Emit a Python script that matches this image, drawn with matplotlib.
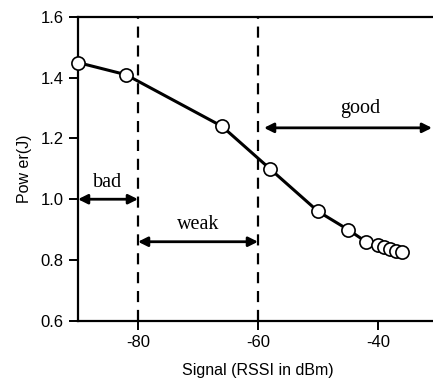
import matplotlib.pyplot as plt

# signal strength (dBm) vs power (J)
rssi = [-90, -82, -66, -58, -50, -45, -42, -40, -39, -38, -37, -36]
power = [1.45, 1.41, 1.24, 1.10, 0.96, 0.90, 0.86, 0.85, 0.844, 0.837, 0.831, 0.825]

zone_bounds = [-80, -60]
zones = ["bad", "weak", "good"]
zone_arrows = [(-90, -80, 1.0), (-80, -60, 0.86), (-59, -31, 1.235)]
zone_text = [(-85, 1.024), (-70, 0.884), (-43, 1.268)]

xticks = [-80, -60, -40]
yticks = [0.6, 0.8, 1.0, 1.2, 1.4, 1.6]


def main():
    plt.rcParams["axes.unicode_minus"] = False
    fig = plt.figure(figsize=(4.33, 3.81), dpi=100)
    ax = fig.add_axes([78 / 433, 60.3 / 381, 360 / 433, 303.7 / 381])

    for xb in zone_bounds:
        ax.axvline(xb, color="black", lw=1.6, ls=(0, (5, 3.5)), zorder=1)

    ax.plot(rssi, power, color="black", lw=2.2, marker="o", ms=9.5,
            mfc="white", mec="black", mew=1.2, zorder=3, clip_on=False)

    for (x0, x1, y), name, (tx, ty) in zip(zone_arrows, zones, zone_text):
        ax.annotate("", xy=(x1, y), xytext=(x0, y),
                    arrowprops=dict(arrowstyle="<|-|>", color="black", lw=2,
                                    mutation_scale=14, shrinkA=0, shrinkB=0),
                    annotation_clip=False)
        ax.text(tx, ty, name, ha="center", va="bottom",
                family="Liberation Serif", fontsize=14.5)

    ax.set_xlim(-90, -30)
    ax.set_ylim(0.6, 1.6)
    ax.set_xticks(xticks)
    ax.set_yticks(yticks)
    ax.set_yticklabels([f"{v:.1f}" for v in yticks])
    ax.tick_params(direction="out", length=6.5, width=1.4, labelsize=12, pad=4)
    for lab in ax.get_xticklabels() + ax.get_yticklabels():
        lab.set_family("Liberation Sans")
    for side in ["left", "bottom", "top", "right"]:
        ax.spines[side].set_linewidth(1.6)

    ax.set_xlabel("Signal (RSSI in dBm)", family="Liberation Sans", fontsize=11.5, labelpad=9)
    ax.set_ylabel("Pow er(J)", family="Liberation Sans", fontsize=11.5, labelpad=6)

    fig.savefig("out.png", dpi=100)


if __name__ == "__main__":
    main()
